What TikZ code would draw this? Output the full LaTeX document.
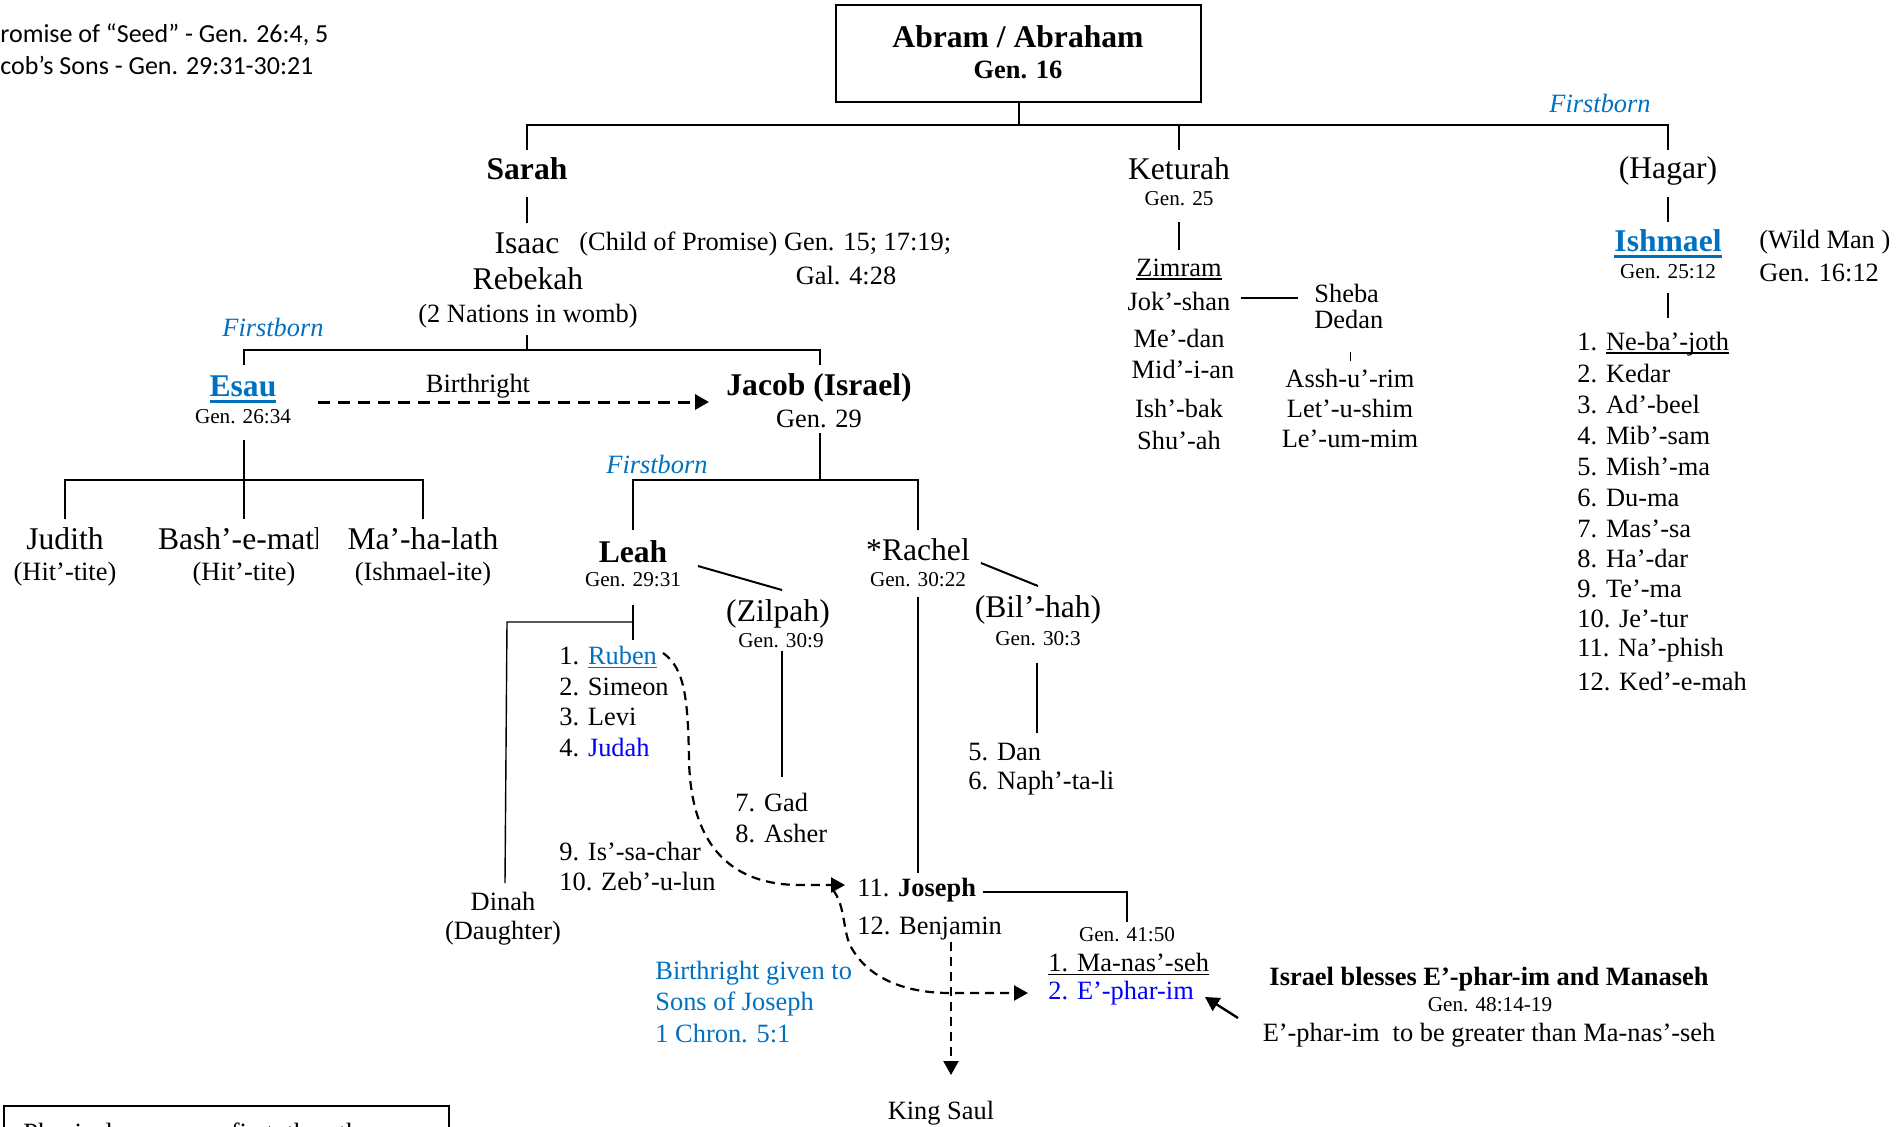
\documentclass[tikz,border=0pt]{standalone}
\usepackage{fontspec}
\setmainfont{Liberation Serif}
\newfontfamily\calibrifont{Carlito}
\usetikzlibrary{arrows.meta}
\definecolor{lblue}{HTML}{0070C0}
\definecolor{pblue}{HTML}{0000FF}
\newsavebox\ulbox
\newcommand\myul[3]{\sbox\ulbox{#3}\rlap{\raisebox{-#1}[0pt][0pt]{\rule{\wd\ulbox}{#2}}}\usebox\ulbox}
\begin{document}
\begin{tikzpicture}[x=0.5pt,y=-0.5pt,
  every node/.style={inner sep=0pt},
  big/.style={font=\fontsize{15.8}{19}\selectfont},
  bigb/.style={font=\fontsize{15.8}{19}\selectfont\bfseries},
  med/.style={font=\fontsize{13.2}{16}\selectfont},
  medb/.style={font=\fontsize{13.2}{16}\selectfont\bfseries},
  sml/.style={font=\fontsize{10.6}{13}\selectfont},
  firstb/.style={font=\fontsize{13.2}{16}\selectfont\itshape, text=lblue},
  item/.style={med, anchor=west},
  tree/.style={line width=1pt},
  thinl/.style={line width=0.7pt},
  dsh/.style={line width=1.1pt, dash pattern=on 4.5pt off 3pt},
  tip/.style={-{Triangle[length=7pt,width=7.5pt]}}
]
\useasboundingbox (0,0) rectangle (1900,1126);

% top-left notes
\node[anchor=west, font=\calibrifont\fontsize{13}{16}\selectfont] (note1) at (0,35) {romise of “Seed” - Gen. 26:4, 5};
\node[anchor=west, font=\calibrifont\fontsize{13}{16}\selectfont] (note2) at (0,65) {cob’s Sons - Gen. 29:31-30:21};

% Abraham box
\node[draw, line width=1.1pt, minimum width=182.5pt, minimum height=48.5pt] (abram) at (1018.5,53.5) {};
\node[bigb] (abramt) at (1018,37) {Abram / Abraham};
\node[medb] (abramg) at (1018,70) {Gen. 16};

% level 1
\node[bigb] (sarah) at (527,169) {Sarah};
\node[big] (keturah) at (1179,169) {Keturah};
\node[sml] (ketgen) at (1179,199) {Gen. 25};
\node[big] (hagar) at (1668,171) {(Hagar)};
\node[firstb] (fb1) at (1600,103) {Firstborn};

\coordinate (busA) at (0,125);
\coordinate (sTop) at (527,150);
\coordinate (kTop) at (1179,150);
\coordinate (hTop) at (1668,150);
\draw[tree] (abram.south) -- (abram.south|-busA);
\draw[tree] (sTop) -- (sTop|-busA) -- (hTop|-busA) -- (hTop);
\draw[tree] (kTop) -- (kTop|-busA);

% Isaac
\coordinate (sa1) at (527,197);
\coordinate (sa2) at (527,223);
\draw[thinl] (sa1) -- (sa2);
\node[big] (isaac) at (527,243) {Isaac};
\node[med, anchor=west] (child) at (579,244) {(Child of Promise) Gen. 15; 17:19;};
\node[med] (gal) at (846,276) {Gal. 4:28};
\node[big] (rebekah) at (528,279) {Rebekah};
\node[med] (nations) at (528,316) {(2 Nations in womb)};
\node[firstb] (fb2) at (273,327) {Firstborn};

\coordinate (r1) at (527,335);
\coordinate (busB) at (0,350);
\coordinate (esTop) at (244,365);
\coordinate (jaTop) at (820,365);
\draw[tree] (r1) -- (r1|-busB);
\draw[tree] (esTop) -- (esTop|-busB) -- (jaTop|-busB) -- (jaTop);

% Esau & Jacob
\node[bigb, text=lblue] (esau) at (243,386) {\myul{3.3pt}{1.5pt}{Esau}};
\node[sml] (esaugen) at (243,417) {Gen. 26:34};
\node[med] (birth) at (478,386) {Birthright};
\node[bigb] (jacob) at (819,388) {Jacob (Israel)};
\node[med] (jacobgen) at (819,419) {Gen. 29};
\coordinate (bArrS) at (318,402);
\coordinate (bArrE) at (709,402);
\draw[line width=1.5pt, dash pattern=on 6pt off 4pt, tip] (bArrS) -- (bArrE);

% Esau's wives
\coordinate (eS) at (244,440);
\coordinate (busC) at (0,480);
\coordinate (juTop) at (65,519);
\coordinate (baTop) at (244,519);
\coordinate (maTop) at (423,519);
\draw[tree] (eS) -- (eS|-busC);
\draw[tree] (juTop) -- (juTop|-busC) -- (maTop|-busC) -- (maTop);
\draw[tree] (baTop) -- (baTop|-busC);
\node[big] (judith) at (65,539) {Judith};
\node[med] (hit1) at (65,574) {(Hit’-tite)};
\begin{scope}
\clip (140,515) rectangle (317,565);
\node[big] (bash) at (244,539) {Bash’-e-math};
\end{scope}
\node[med] (hit2) at (244,574) {(Hit’-tite)};
\node[big] (mahalath) at (423,539) {Ma’-ha-lath};
\node[med] (ishite) at (423,574) {(Ishmael-ite)};

% Jacob's wives
\node[firstb] (fb3) at (657,464) {Firstborn};
\coordinate (jS) at (820,433);
\coordinate (leTop) at (633,530);
\coordinate (raTop) at (918,530);
\draw[tree] (jS) -- (jS|-busC);
\draw[tree] (leTop) -- (leTop|-busC) -- (raTop|-busC) -- (raTop);
\node[bigb] (leah) at (633,552) {Leah};
\node[sml] (leahgen) at (633,580) {Gen. 29:31};
\node[big] (zilpah) at (778,614) {(Zilpah)};
\node[sml] (zilgen) at (781,641) {Gen. 30:9};
\coordinate (lz1) at (698,566);
\coordinate (lz2) at (782,590);
\draw[tree] (lz1) -- (lz2);
\coordinate (z1) at (782,651);
\coordinate (z2) at (782,777);
\draw[thinl] (z1) -- (z2);
\node[item] (gad) at (735,803) {7. Gad};
\node[item] (asher) at (735,834) {8. Asher};

% Leah's children
\coordinate (ls1) at (633,605);
\coordinate (ls2) at (633,640);
\coordinate (dTop) at (507,622);
\coordinate (dBot) at (505,883);
\draw[thinl] (ls1) -- (ls2);
\draw[thinl] (dBot) -- (dTop) -- (dTop-|ls1);
\node[med] (dinah) at (503,901) {Dinah};
\node[med] (daughter) at (503,933) {(Daughter)};
\node[item] (ruben) at (559,656) {1. \textcolor{lblue}{\myul{1.4pt}{0.6pt}{Ruben}}};
\node[item] (simeon) at (559,687) {2. Simeon};
\node[item] (levi) at (559,717) {3. Levi};
\node[item] (judah) at (559,748) {4. \textcolor{pblue}{Judah}};
\node[item] (issachar) at (559,852) {9. Is’-sa-char};
\node[item] (zebulun) at (559,882) {10. Zeb’-u-lun};

% Rachel
\node[big] (rachel) at (918,550) {*Rachel};
\node[sml] (rachgen) at (918,580) {Gen. 30:22};
\coordinate (rb1) at (981,563);
\coordinate (rb2) at (1038,586);
\draw[tree] (rb1) -- (rb2);
\node[big] (bilhah) at (1038,610) {(Bil’-hah)};
\node[sml] (bilgen) at (1038,639) {Gen. 30:3};
\coordinate (b1) at (1037,663);
\coordinate (b2) at (1037,733);
\draw[thinl] (b1) -- (b2);
\node[item] (dan) at (968,752) {5. Dan};
\node[item] (naph) at (968,783) {6. Naph’-ta-li};
\coordinate (rs1) at (918,597);
\coordinate (rs2) at (918,873);
\draw[thinl] (rs1) -- (rs2);

% Joseph & Benjamin
\node[item] (joseph) at (857,890) {11. \textbf{Joseph}};
\node[item] (benjamin) at (857,929) {12. Benjamin};
\coordinate (jo1) at (983,892);
\coordinate (jo2) at (1127,922);
\draw[tree] (jo1) -| (jo2);
\node[sml] (gen4150) at (1127,935) {Gen. 41:50};
\node[item] (manasseh) at (1048,963) {\myul{1.6pt}{0.7pt}{1. Ma-nas’-seh}};
\node[item, text=pblue] (ephraim) at (1048,993) {2. E’-phar-im};

% Birthright given
\node[item, text=lblue] (bg1) at (655,973) {Birthright given to};
\node[item, text=lblue] (bg2) at (655,1004) {Sons of Joseph};
\node[item, text=lblue] (bg3) at (655,1034) {1 Chron. 5:1};

% dashed birthright curves
\coordinate (c1s) at (663,653);
\coordinate (c1e) at (845,885);
\draw[dsh, tip] (c1s) .. controls (685,668) and (688,700) .. (689,760)
  .. controls (691,850) and (735,885) .. (800,885) -- (c1e);
\coordinate (c2s) at (833,890);
\coordinate (c2e) at (1028,993);
\draw[dsh, tip] (c2s) .. controls (845,905) and (843,930) .. (850,945)
  .. controls (865,975) and (900,993) .. (950,993) -- (c2e);
\coordinate (ks) at (951,942);
\coordinate (ke) at (951,1075);
\draw[dsh, tip] (ks) -- (ke);
\node[med] (kingsaul) at (941,1113) {King Saul};

% Israel blesses
\node[medb] (blesses) at (1489,979) {Israel blesses E’-phar-im and Manaseh};
\node[sml] (gen4814) at (1490,1005) {Gen. 48:14-19};
\node[med] (greater) at (1489,1035) {E’-phar-im\ \ to be greater than Ma-nas’-seh};
\coordinate (a1) at (1238,1018);
\coordinate (a2) at (1205,997);
\draw[line width=1.2pt, tip] (a1) -- (a2);

% Keturah's sons
\coordinate (kt1) at (1179,222);
\coordinate (kt2) at (1179,250);
\draw[thinl] (kt1) -- (kt2);
\node[med] (zimram) at (1179,268) {\myul{1.6pt}{0.7pt}{Zimram}};
\node[med] (jokshan) at (1179,301) {Jok’-shan};
\coordinate (jk1) at (1241,298);
\coordinate (jk2) at (1298,298);
\draw[thinl] (jk1) -- (jk2);
\node[item] (sheba) at (1314,293) {Sheba};
\node[item] (dedan) at (1314,319) {Dedan};
\node[med] (medan) at (1179,338) {Me’-dan};
\node[med] (midian) at (1183,369) {Mid’-i-an};
\node[med] (ishbak) at (1179,408) {Ish’-bak};
\node[med] (shuah) at (1179,440) {Shu’-ah};
\coordinate (tk1) at (1350,352);
\coordinate (tk2) at (1350,361);
\draw[line width=0.5pt] (tk1) -- (tk2);
\node[med] (asshurim) at (1350,378) {Assh-u’-rim};
\node[med] (letushim) at (1350,408) {Let’-u-shim};
\node[med] (leummim) at (1350,439) {Le’-um-mim};

% Hagar / Ishmael
\coordinate (hg1) at (1668,197);
\coordinate (hg2) at (1668,222);
\draw[thinl] (hg1) -- (hg2);
\node[bigb, text=lblue] (ishmael) at (1668,241) {\myul{3.3pt}{1.5pt}{Ishmael}};
\node[sml] (ishgen) at (1668,272) {Gen. 25:12};
\node[item] (wildman) at (1759,242) {(Wild Man )};
\node[item] (gen1612) at (1759,273) {Gen. 16:12};
\coordinate (is1) at (1668,293);
\coordinate (is2) at (1668,318);
\draw[thinl] (is1) -- (is2);
\node[item] (i1) at (1577,344) {1. \myul{1.6pt}{0.7pt}{Ne-ba’-joth}};
\node[item] (i2) at (1577,374) {2. Kedar};
\node[item] (i3) at (1577,405) {3. Ad’-beel};
\node[item] (i4) at (1577,436) {4. Mib’-sam};
\node[item] (i5) at (1577,467) {5. Mish’-ma};
\node[item] (i6) at (1577,498) {6. Du-ma};
\node[item] (i7) at (1577,529) {7. Mas’-sa};
\node[item] (i8) at (1577,559) {8. Ha’-dar};
\node[item] (i9) at (1577,589) {9. Te’-ma};
\node[item] (i10) at (1577,619) {10. Je’-tur};
\node[item] (i11) at (1577,650) {11. Na’-phish};
\node[item] (i12) at (1577,682) {12. Ked’-e-mah};

% bottom-left box (cut off by the page edge)
\node[draw, line width=1pt, minimum width=222.5pt, minimum height=30pt, anchor=north west] (physbox) at (3,1105) {};
\node[med, anchor=base west] (phys) at (23,1141) {Physical sons were first, then the};
\end{tikzpicture}
\end{document}
